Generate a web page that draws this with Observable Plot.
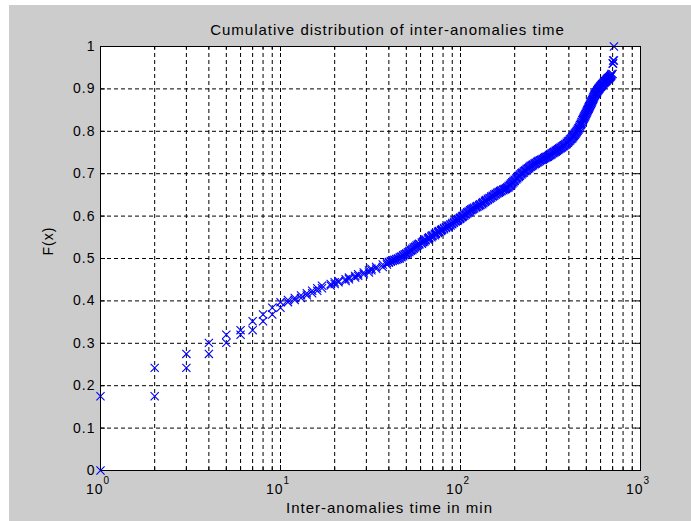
<!DOCTYPE html>
<html>
<head>
<meta charset="utf-8">
<script src="https://cdn.jsdelivr.net/npm/d3@7"></script>
<script src="https://cdn.jsdelivr.net/npm/@observablehq/plot@0.6"></script>
<style>
  html, body { margin: 0; padding: 0; background: #ffffff; }
  svg { display: block; }
  #chart text { letter-spacing: 1px; }
</style>
</head>
<body>
<div id="chart"></div>
<script>
const title = "Cumulative distribution of inter-anomalies time";
const xLabel = "Inter-anomalies time in min";
const yLabel = "F(x)";

// distinct inter-anomaly times (min) and the empirical CDF value reached at each
const times = [
  1, 2, 3, 4, 5, 6, 7, 8, 9, 10,
  11, 12, 13, 14, 15, 16, 17, 19, 20, 21,
  23, 24, 26, 27, 29, 31, 32, 34, 37, 39,
  40, 41, 42, 43, 44, 45, 46, 47, 48, 49,
  50, 51, 52, 53, 54, 55, 56, 57, 58, 59,
  61, 62, 63, 64, 66, 67, 69, 70, 72, 73,
  75, 76, 78, 79, 81, 83, 85, 86, 88, 90,
  92, 94, 96, 97, 99, 100, 102, 103, 105, 107,
  109, 111, 113, 115, 117, 119, 122, 124, 127, 129,
  132, 134, 137, 139, 142, 145, 148, 151, 154, 157,
  160, 163, 166, 169, 173, 176, 179, 182, 185, 188,
  191, 194, 197, 200, 204, 207, 211, 214, 218, 221,
  225, 229, 233, 237, 241, 245, 249, 253, 258, 262,
  267, 271, 276, 281, 286, 291, 296, 301, 306, 311,
  316, 321, 327, 332, 338, 343, 349, 354, 360, 366,
  372, 377, 383, 389, 395, 400, 406, 411, 417, 422,
  427, 432, 437, 442, 447, 452, 457, 461, 466, 470,
  475, 479, 483, 487, 491, 495, 499, 503, 507, 511,
  515, 519, 523, 527, 531, 535, 539, 543, 547, 551,
  555, 559, 564, 568, 573, 577, 582, 586, 591, 596,
  601, 607, 613, 619, 625, 631, 637, 643, 649, 655,
  661, 667, 673, 679, 685, 690, 700, 705, 712
];
const cdf = [
  0.175, 0.242, 0.275, 0.301, 0.320, 0.331, 0.352, 0.368, 0.384, 0.397,
  0.402, 0.407, 0.413, 0.418, 0.424, 0.430, 0.436, 0.440, 0.444, 0.447,
  0.451, 0.455, 0.459, 0.463, 0.467, 0.472, 0.476, 0.480, 0.486, 0.490,
  0.492, 0.494, 0.496, 0.497, 0.499, 0.500, 0.503, 0.505, 0.508, 0.510,
  0.512, 0.515, 0.518, 0.520, 0.523, 0.526, 0.528, 0.531, 0.533, 0.535,
  0.538, 0.540, 0.543, 0.545, 0.548, 0.550, 0.553, 0.555, 0.558, 0.560,
  0.563, 0.565, 0.567, 0.569, 0.572, 0.574, 0.576, 0.578, 0.581, 0.584,
  0.587, 0.589, 0.591, 0.593, 0.595, 0.597, 0.599, 0.601, 0.604, 0.606,
  0.609, 0.611, 0.614, 0.616, 0.618, 0.620, 0.622, 0.624, 0.626, 0.628,
  0.631, 0.633, 0.636, 0.638, 0.641, 0.643, 0.646, 0.648, 0.651, 0.653,
  0.655, 0.657, 0.659, 0.661, 0.663, 0.664, 0.666, 0.668, 0.671, 0.674,
  0.677, 0.680, 0.683, 0.686, 0.689, 0.692, 0.695, 0.698, 0.701, 0.703,
  0.706, 0.708, 0.711, 0.713, 0.716, 0.718, 0.720, 0.722, 0.724, 0.726,
  0.728, 0.730, 0.732, 0.733, 0.735, 0.737, 0.739, 0.740, 0.742, 0.744,
  0.746, 0.748, 0.750, 0.752, 0.754, 0.756, 0.758, 0.760, 0.762, 0.764,
  0.766, 0.768, 0.770, 0.773, 0.776, 0.778, 0.781, 0.783, 0.786, 0.789,
  0.792, 0.795, 0.798, 0.801, 0.804, 0.807, 0.811, 0.815, 0.818, 0.822,
  0.826, 0.829, 0.832, 0.835, 0.838, 0.841, 0.844, 0.847, 0.850, 0.853,
  0.856, 0.859, 0.862, 0.865, 0.868, 0.871, 0.874, 0.877, 0.880, 0.883,
  0.886, 0.888, 0.890, 0.892, 0.895, 0.897, 0.899, 0.901, 0.903, 0.905,
  0.907, 0.909, 0.911, 0.913, 0.915, 0.917, 0.918, 0.920, 0.922, 0.924,
  0.925, 0.927, 0.928, 0.930, 0.932, 0.935, 0.960, 0.967, 1.000
];

const yTicks = [0, 0.1, 0.2, 0.3, 0.4, 0.5, 0.6, 0.7, 0.8, 0.9, 1];
const yTickLabels = ["0", "0.1", "0.2", "0.3", "0.4", "0.5", "0.6", "0.7", "0.8", "0.9", "1"];
const yGrid = [0.1, 0.2, 0.3, 0.4, 0.5, 0.6, 0.7, 0.8, 0.9];
const xDecades = [1, 10, 100, 1000];
const xExponents = ["0", "1", "2", "3"];
const xMinor = [2, 3, 4, 5, 6, 7, 8, 9, 20, 30, 40, 50, 60, 70, 80, 90, 200, 300, 400, 500, 600, 700, 800, 900];
const xGrid = [2, 3, 4, 5, 6, 7, 8, 9, 10, 20, 30, 40, 50, 60, 70, 80, 90, 100, 200, 300, 400, 500, 600, 700, 800, 900];

// each step of the empirical CDF is marked at its lower and upper level
const points = [];
let prev = 0;
times.forEach((t, i) => {
  points.push({t, F: prev});
  points.push({t, F: cdf[i]});
  prev = cdf[i];
});

const font = "'Liberation Sans', Arial, Helvetica, sans-serif";
const W = 691, H = 521;
const mL = 100, mR = 51, mT = 46, mB = 51;
const innerH = H - mT - mB;
const innerW = W - mL - mR;

const chart = Plot.plot({
  width: W,
  height: H,
  marginLeft: mL,
  marginRight: mR,
  marginTop: mT,
  marginBottom: mB,
  style: {background: "transparent", fontFamily: font, fontSize: "14px", color: "#000", overflow: "visible"},
  x: {type: "log", domain: [1, 1000], axis: null},
  y: {domain: [0, 1], axis: null},
  marks: [
    Plot.frame({fill: "#ffffff", stroke: "none"}),
    Plot.ruleX(xGrid, {x: d => d, stroke: "#000", strokeWidth: 1, strokeDasharray: "4,3"}),
    Plot.ruleY(yGrid, {y: d => d, stroke: "#000", strokeWidth: 1, strokeDasharray: "4,3"}),
    Plot.dot(points, {x: "t", y: "F", symbol: "times", r: 3.8, stroke: "#0000ff", strokeWidth: 1.1}),
    Plot.frame({stroke: "#000", strokeWidth: 1}),
    // inward tick marks (bottom/top major + minor)
    Plot.tickX(xDecades, {x: d => d, insetTop: innerH - 5, stroke: "#000"}),
    Plot.tickX(xDecades, {x: d => d, insetBottom: innerH - 5, stroke: "#000"}),
    Plot.tickX(xMinor, {x: d => d, insetTop: innerH - 3, stroke: "#000"}),
    Plot.tickX(xMinor, {x: d => d, insetBottom: innerH - 3, stroke: "#000"}),
    Plot.tickY(yTicks, {y: d => d, insetRight: innerW - 5, stroke: "#000"}),
    Plot.tickY(yTicks, {y: d => d, insetLeft: innerW - 5, stroke: "#000"}),
    // y tick labels
    Plot.text(yTickLabels, {x: 1, y: (d, i) => yTicks[i], text: d => d, textAnchor: "end", dx: -5, fontSize: 14, fill: "#000"}),
    // x tick labels: 10 with superscript exponent
    Plot.text(xDecades, {x: d => d, y: 0, text: () => "10", textAnchor: "end", dx: 3, dy: 19, fontSize: 14, fill: "#000"}),
    Plot.text(xExponents, {x: (d, i) => xDecades[i], y: 0, text: d => d, textAnchor: "start", dx: 3, dy: 10, fontSize: 10, fill: "#000"}),
    // title and axis labels
    Plot.text([title], {text: d => d, frameAnchor: "top", dx: 17, dy: -22, fontSize: 15, fill: "#000"}),
    Plot.text([xLabel], {text: d => d, frameAnchor: "bottom", dx: 19, dy: 42, fontSize: 15, fill: "#000"}),
    Plot.text([yLabel], {text: d => d, frameAnchor: "left", rotate: -90, dx: -52, dy: -3, fontSize: 14, fill: "#000"})
  ]
});

// grey figure background behind the axes
d3.select(chart).insert("rect", ":first-child")
  .attr("x", 9).attr("y", 5)
  .attr("width", W - 9).attr("height", H - 5)
  .attr("fill", "#cccccc");

document.getElementById("chart").appendChild(chart);
</script>
</body>
</html>
